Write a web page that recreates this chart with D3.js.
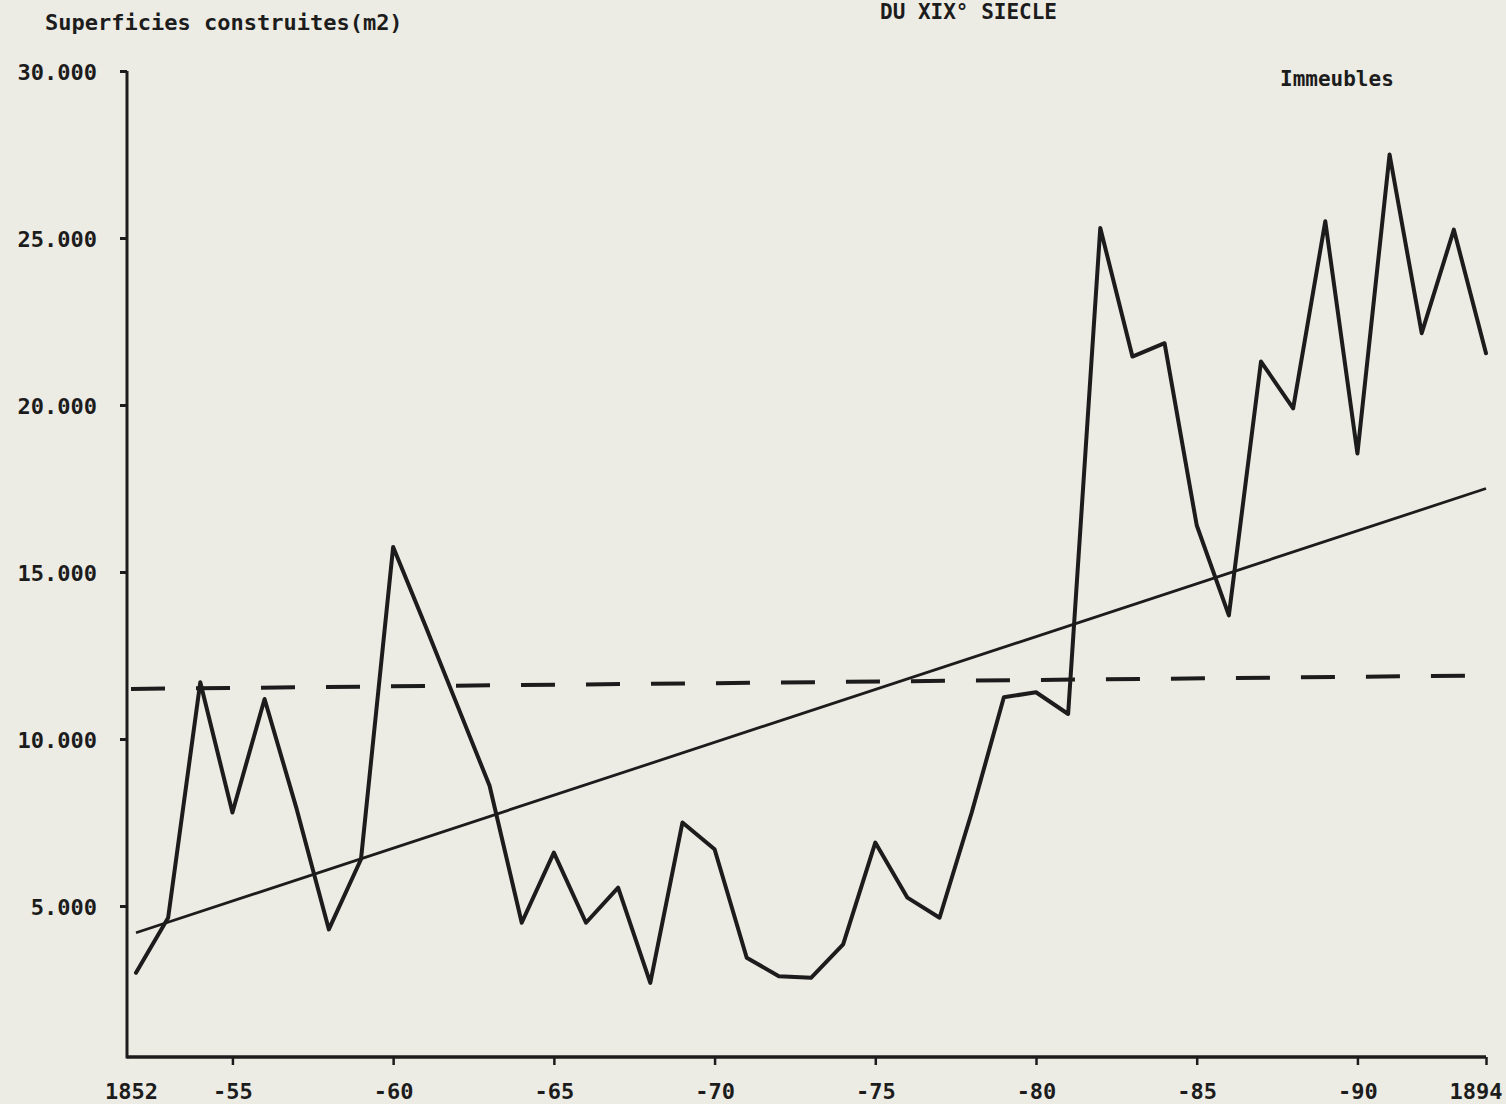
<!DOCTYPE html>
<html>
<head>
<meta charset="utf-8">
<script src="https://cdn.jsdelivr.net/npm/d3@7"></script>
<style>
  html, body { margin: 0; padding: 0; background: #ecebe4; }
  svg { display: block; }
  text { font-family: "DejaVu Sans Mono", monospace; font-weight: bold; fill: #1c1c1c; }
</style>
</head>
<body>
<script>
// ---- data ----
const years = d3.range(1852, 1895);
const surfaces = [
  3000, 4650, 11700, 7800, 11200, 7900, 4300, 6400, 15750, 13400,
  11000, 8600, 4500, 6600, 4500, 5550, 2700, 7500, 6700, 3450,
  2900, 2850, 3850, 6900, 5250, 4650, 7800, 11250, 11400, 10750,
  25300, 21450, 21850, 16400, 13700, 21300, 19900, 25500, 18550, 27500,
  22150, 25250, 21550
];
const trendYears = [1852, 1894];
const trendValues = [4200, 17500];
const meanYears = [1852, 1894];
const meanValues = [11500, 11900];
const yTicks = [5000, 10000, 15000, 20000, 25000, 30000];
const xTicks = [1852, 1855, 1860, 1865, 1870, 1875, 1880, 1885, 1890, 1894];
const yTitle = "Superficies construites(m2)";
const seriesLabel = "Immeubles";
const topTitle = "DU XIX\u00B0 SIECLE";

const W = 1506, H = 1104;
const ink = "#1c1c1c";

const svg = d3.select("body").append("svg").attr("width", W).attr("height", H);

const x = d3.scaleLinear().domain([1852, 1894]).range([136, 1486]);
const y = d3.scaleLinear().domain([480, 30000]).range([1057, 71]);
const axisX = 127;

// title at the very top (cut by the page edge in the original scan)
svg.append("text").attr("x", 880).attr("y", 19)
  .style("font-size", "21px").text(topTitle);

// y title
svg.append("text").attr("x", 45).attr("y", 30)
  .style("font-size", "22px").text(yTitle);

// series label
svg.append("text").attr("x", 1280).attr("y", 86)
  .style("font-size", "21px").text(seriesLabel);

// y axis
const fmt = v => d3.format(",")(v).replace(/,/g, ".");
const yAxis = d3.axisLeft(y).tickValues(yTicks).tickFormat(fmt)
  .tickSize(7).tickPadding(23).tickSizeOuter(0);
const gy = svg.append("g").attr("transform", `translate(${axisX},0)`).call(yAxis);
gy.select(".domain").remove();
gy.selectAll(".tick line").attr("stroke", ink).attr("stroke-width", 3);
gy.selectAll(".tick text").style("font-size", "22px").attr("dy", "0.4em").attr("fill", ink);
gy.append("line").attr("x1", 0).attr("x2", 0)
  .attr("y1", y(30000)).attr("y2", y(480) + 1.5)
  .attr("stroke", ink).attr("stroke-width", 3);

// x axis
const xAxis = d3.axisBottom(x).tickValues(xTicks)
  .tickFormat(d => (d === 1852 || d === 1894) ? String(d) : "-" + String(d).slice(2))
  .tickSize(8).tickPadding(18).tickSizeOuter(0);
const gx = svg.append("g").attr("transform", `translate(0,${y(480)})`).call(xAxis);
gx.select(".domain").remove();
gx.append("line").attr("x1", axisX).attr("x2", x(1894))
  .attr("y1", 0).attr("y2", 0).attr("stroke", ink).attr("stroke-width", 3.5);
gx.selectAll(".tick line").attr("stroke", ink).attr("stroke-width", 2.5);
gx.selectAll(".tick").filter(d => d === 1852).select("line").remove();
gx.selectAll(".tick text").style("font-size", "22px").attr("fill", ink);
gx.selectAll(".tick").filter(d => d === 1852).select("text").attr("dx", -5);
gx.selectAll(".tick").filter(d => d === 1894).select("text")
  .attr("text-anchor", "end").attr("dx", 16);

// mean (dashed) line
const line = d3.line().x(d => x(d[0])).y(d => y(d[1]));
svg.append("path")
  .datum(meanYears.map((yr, i) => [yr, meanValues[i]]))
  .attr("d", line).attr("fill", "none").attr("stroke", ink)
  .attr("stroke-width", 4).attr("stroke-dasharray", "34,31")
  .attr("transform", "translate(-5,0)");

// trend line
svg.append("path")
  .datum(trendYears.map((yr, i) => [yr, trendValues[i]]))
  .attr("d", line).attr("fill", "none").attr("stroke", ink)
  .attr("stroke-width", 2.8);

// data line
svg.append("path")
  .datum(years.map((yr, i) => [yr, surfaces[i]]))
  .attr("d", line).attr("fill", "none").attr("stroke", ink)
  .attr("stroke-width", 4).attr("stroke-linejoin", "round").attr("stroke-linecap", "round");
</script>
</body>
</html>
